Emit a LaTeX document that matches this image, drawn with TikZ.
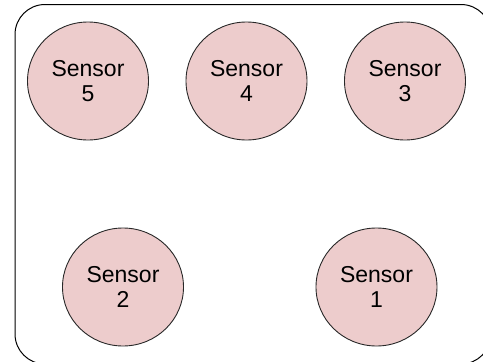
\documentclass[tikz,border=0pt]{standalone}
\usepackage{fontspec}
\setmainfont{Liberation Sans}
\usetikzlibrary{shapes.geometric}
\definecolor{sensorfill}{RGB}{237,204,204}
\definecolor{edgecol}{RGB}{40,40,40}
\begin{document}
\begin{tikzpicture}[x=1pt,y=-1pt,
  sensor/.style={ellipse, draw=edgecol, line width=0.9pt, fill=sensorfill,
    minimum width=121pt, minimum height=118pt, inner sep=0pt, align=center,
    font=\fontsize{23}{25}\selectfont, text=black}]
\useasboundingbox (0,0) rectangle (483,362);
\clip (0,0) rectangle (483,362);
\fill[white] (0,0) rectangle (483,362);
\draw[line width=1pt, rounded corners=30pt] (15,4.5) rectangle (491,364);
\node[sensor] (s5) at (88,81) {Sensor\\5};
\node[sensor] (s4) at (246.5,81) {Sensor\\4};
\node[sensor] (s3) at (405,81) {Sensor\\3};
\node[sensor] (s2) at (123,287) {Sensor\\2};
\node[sensor] (s1) at (376.5,287) {Sensor\\1};
\end{tikzpicture}
\end{document}
